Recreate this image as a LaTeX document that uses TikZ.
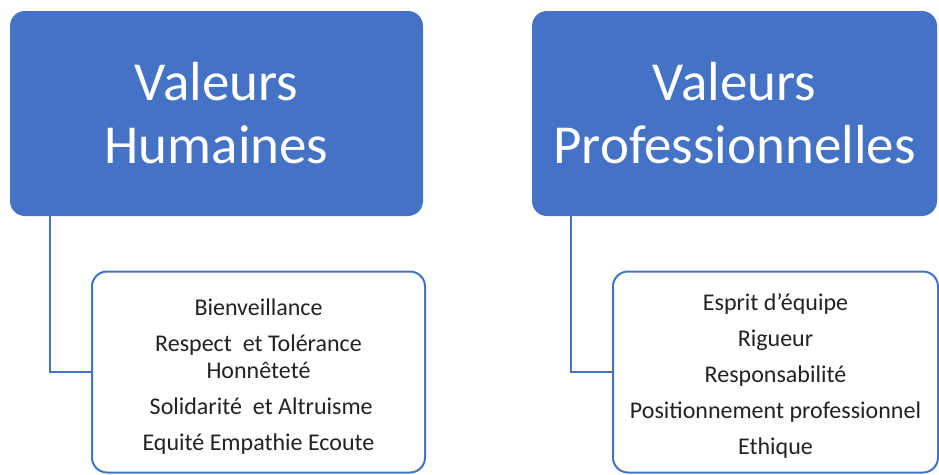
\documentclass[tikz,border=0pt]{standalone}
\usepackage{fontspec}
\setmainfont{Carlito}
\definecolor{hdblue}{HTML}{4472C4}
\definecolor{txtgray}{HTML}{222222}
\tikzset{
  headbox/.style={fill=hdblue, draw=none, rounded corners=15pt, text=white,
    align=center, font=\fontsize{55}{63}\selectfont, inner sep=0pt},
  itembox/.style={draw=hdblue, line width=2pt, fill=white, rounded corners=15pt,
    text=txtgray, align=center, font=\fontsize{24}{27}\selectfont, inner sep=0pt},
  link/.style={draw=hdblue, line width=2pt}
}
\begin{document}
\begin{tikzpicture}[x=1pt,y=-1pt]
\useasboundingbox (0,0) rectangle (939,474);
\node[headbox, minimum width=413pt, minimum height=205pt] (hl) at (216.5,113.5) {Valeurs\\Humaines};
\node[headbox, minimum width=405pt, minimum height=205pt] (hr) at (734.5,113.5) {Valeurs\\Professionnelles};
\node[itembox, minimum width=333pt, minimum height=201pt] (cl) at (258.5,372)
  {\rule{0pt}{25pt}Bienveillance\\[9pt] Respect\ \ et Tolérance\\ Honnêteté\\[9pt] \ Solidarité\ \ et Altruisme\\[9pt] Equité Empathie Ecoute};
\node[itembox, minimum width=325pt, minimum height=201pt] (cr) at (775.5,372)
  {\rule{0pt}{25pt}Esprit d’équipe\\[9pt] Rigueur\\[9pt] Responsabilité\\[9pt] Positionnement professionnel\\[9pt] Ethique};
\draw[link] ([xshift=40pt]hl.south west) |- (cl.west);
\draw[link] ([xshift=39pt]hr.south west) |- (cr.west);
\end{tikzpicture}
\end{document}
